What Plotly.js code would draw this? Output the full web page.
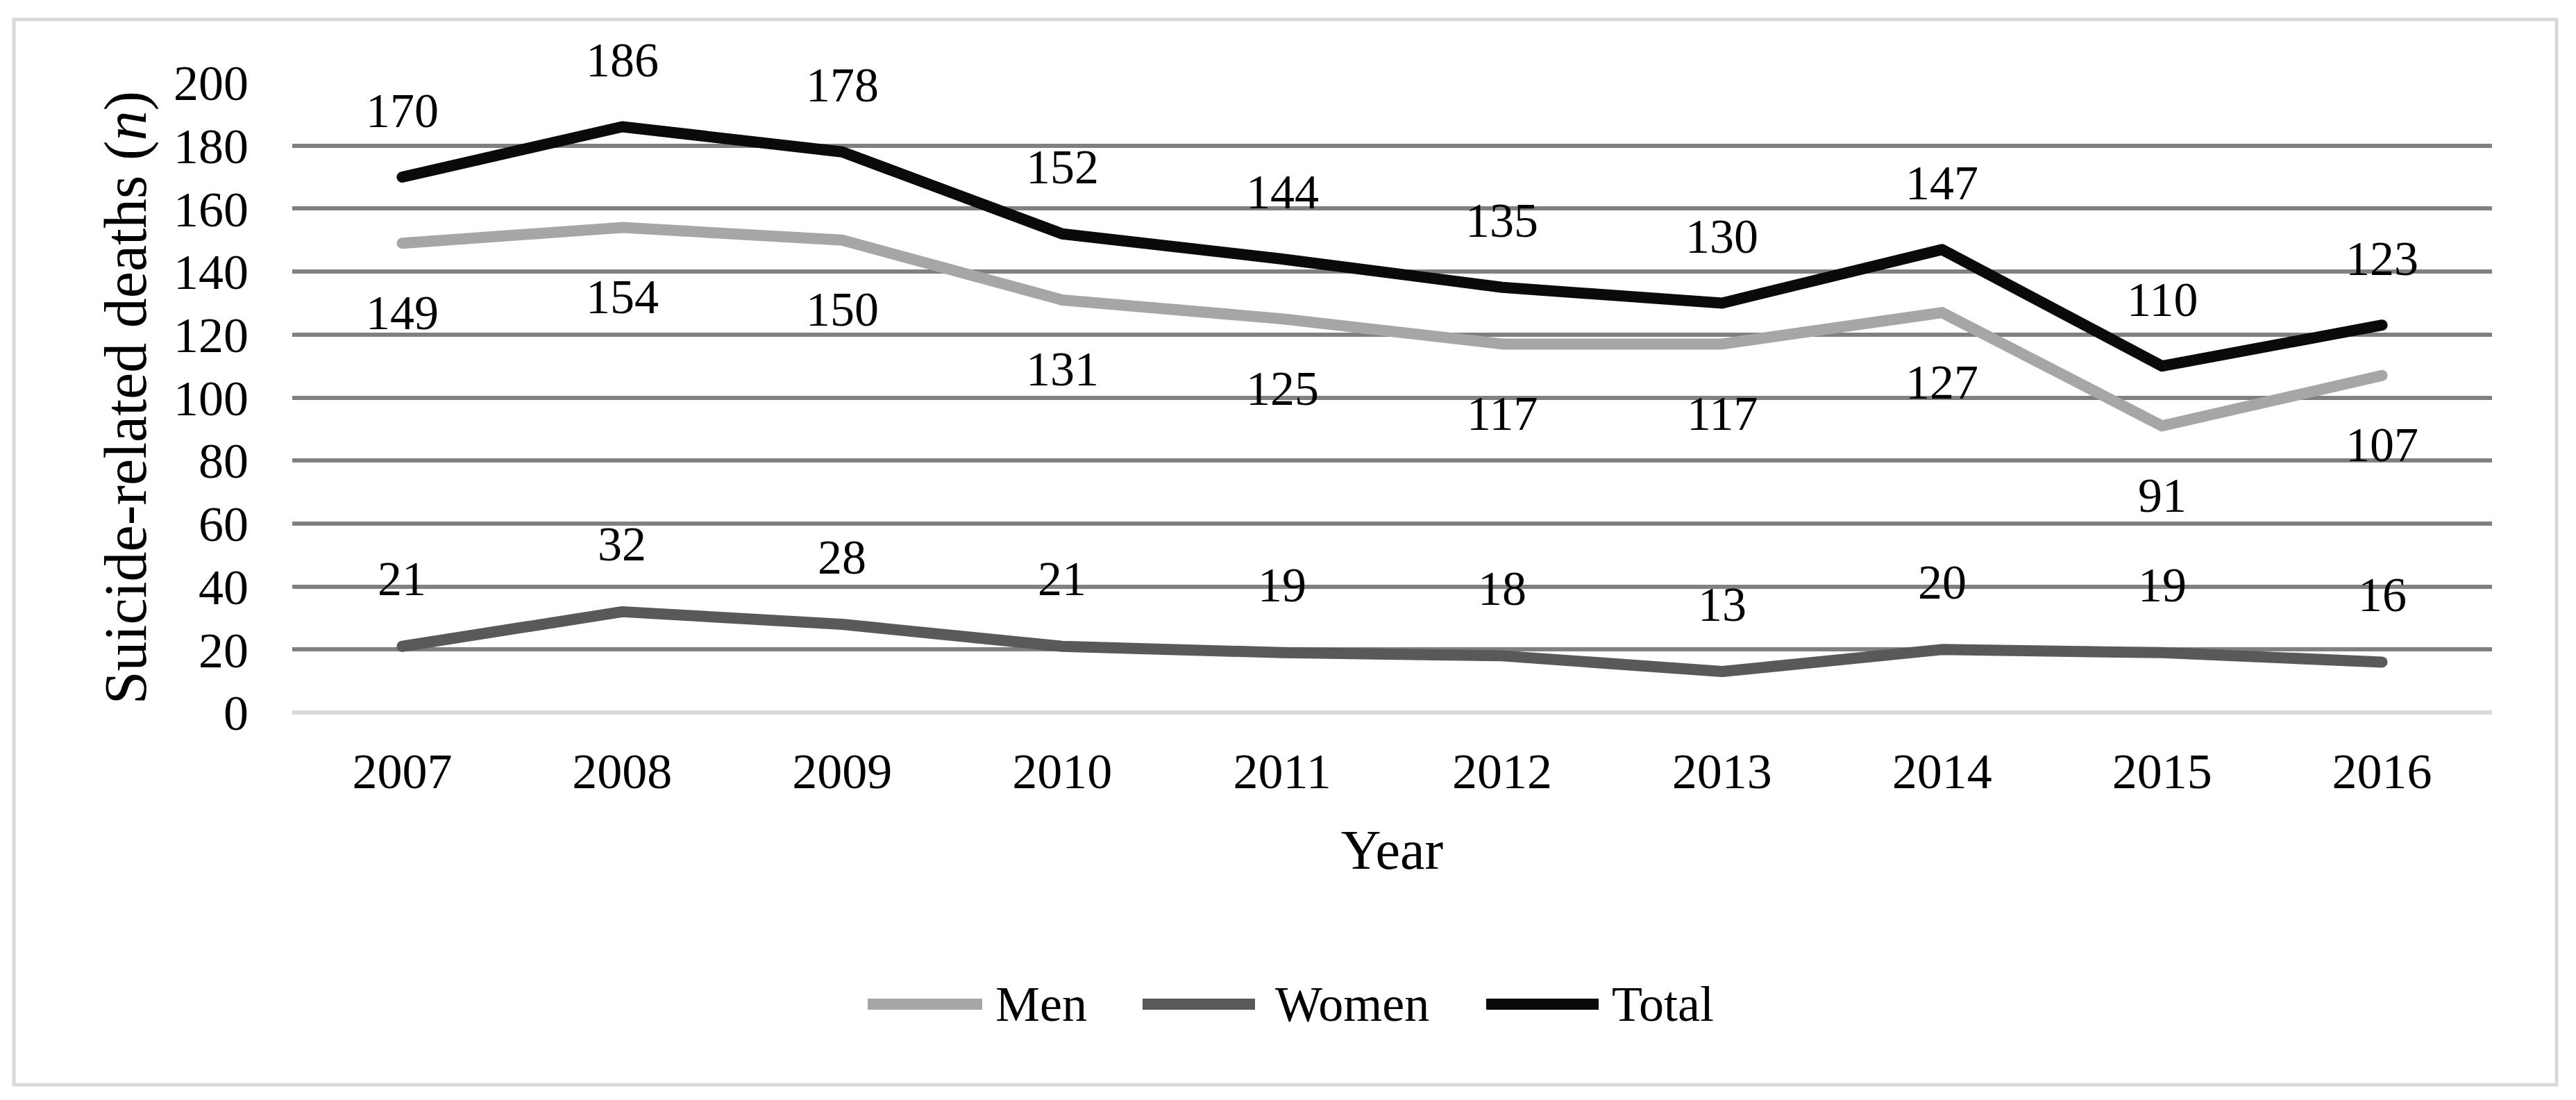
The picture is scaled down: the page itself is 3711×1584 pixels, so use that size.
<!DOCTYPE html>
<html>
<head>
<meta charset="utf-8">
<script src="https://cdn.plot.ly/plotly-3.0.1.min.js"></script>
<style>
html,body{margin:0;padding:0;background:#fff;}
.scatterlayer .js-line{stroke-linecap:round;stroke-linejoin:round;}
</style>
</head>
<body>
<div id="chart" style="width:3711px;height:1584px;"></div>
<script>
const years = ["2007","2008","2009","2010","2011","2012","2013","2014","2015","2016"];
const men   = [149,154,150,131,125,117,117,127,91,107];
const women = [21,32,28,21,19,18,13,20,19,16];
const total = [170,186,178,152,144,135,130,147,110,123];
const yTicks = [0,20,40,60,80,100,120,140,160,180,200];

const FONT = "Liberation Serif, Times New Roman, serif";
const colors = {men:"#a6a6a6", women:"#595959", total:"#0a0a0a"};
const LW = 16;

const traces = [
  {x: years, y: men, name: "Men", type: "scatter", mode: "lines", line: {color: colors.men, width: LW}, showlegend: false},
  {x: years, y: women, name: "Women", type: "scatter", mode: "lines", line: {color: colors.women, width: LW}, showlegend: false},
  {x: years, y: total, name: "Total", type: "scatter", mode: "lines", line: {color: colors.total, width: LW}, showlegend: false}
];

const annotations = [];
function addLabels(vals, shift) {
  vals.forEach((v, i) => {
    // category axis: position by category index
    annotations.push({x: i, y: v, xref: "x", yref: "y", text: String(v), showarrow: false,
      yshift: shift, font: {family: FONT, size: 70, color: "#000"}});
  });
}
addLabels(total, 96);
addLabels(men, -100);
addLabels(women, 97);

// custom legend (paper coords)
const L = {left: 421, right: 3590, top: 119, bottom: 1026};
const px = v => (v - L.left) / (L.right - L.left);
const py = v => (L.bottom - v) / (L.bottom - L.top);
const legendItems = [
  {name: "Men", color: colors.men, x0: 1250, x1: 1415, tx: 1432},
  {name: "Women", color: colors.women, x0: 1646, x1: 1808, tx: 1835},
  {name: "Total", color: colors.total, x0: 2141, x1: 2303, tx: 2320}
];
const legY = 1446;
const shapes = [];
legendItems.forEach(it => {
  shapes.push({type: "line", xref: "paper", yref: "paper", x0: px(it.x0), x1: px(it.x1), y0: py(legY), y1: py(legY),
    line: {color: it.color, width: LW}});
  annotations.push({xref: "paper", yref: "paper", x: px(it.tx), y: py(legY), xanchor: "left", yanchor: "middle",
    text: it.name, showarrow: false, font: {family: FONT, size: 72, color: "#000"}});
});
// outer border
shapes.push({type: "rect", xref: "paper", yref: "paper", x0: px(20), x1: px(3683), y0: py(1562), y1: py(28),
  line: {color: "#d9d9d9", width: 5}, fillcolor: "rgba(0,0,0,0)", layer: "below"});

const layout = {
  width: 3711, height: 1584,
  margin: {l: L.left, r: 3711 - L.right, t: L.top, b: 1584 - L.bottom, pad: 0},
  paper_bgcolor: "#fff", plot_bgcolor: "#fff",
  font: {family: FONT, color: "#000"},
  xaxis: {
    type: "category", range: [-0.5, 9.5], showgrid: false, showline: false, zeroline: false, ticks: "",
    tickfont: {family: FONT, size: 72, color: "#000"}, ticklabelstandoff: 36,
    title: {text: "Year", font: {family: FONT, size: 80, color: "#000"}, standoff: 44}
  },
  yaxis: {
    range: [0, 200], tickvals: yTicks, ticktext: yTicks.map(String), showgrid: true, gridcolor: "#808080", gridwidth: 6,
    zeroline: true, zerolinecolor: "#d9d9d9", zerolinewidth: 6, showline: false, ticks: "",
    tickfont: {family: FONT, size: 72, color: "#000"}, ticklabelstandoff: 62,
    title: {text: "Suicide-related deaths (<i>n</i>)", font: {family: FONT, size: 86, color: "#000"}, standoff: 10}
  },
  showlegend: false,
  annotations: annotations,
  shapes: shapes
};

Plotly.newPlot("chart", traces, layout, {displayModeBar: false, staticPlot: true});
</script>
</body>
</html>
